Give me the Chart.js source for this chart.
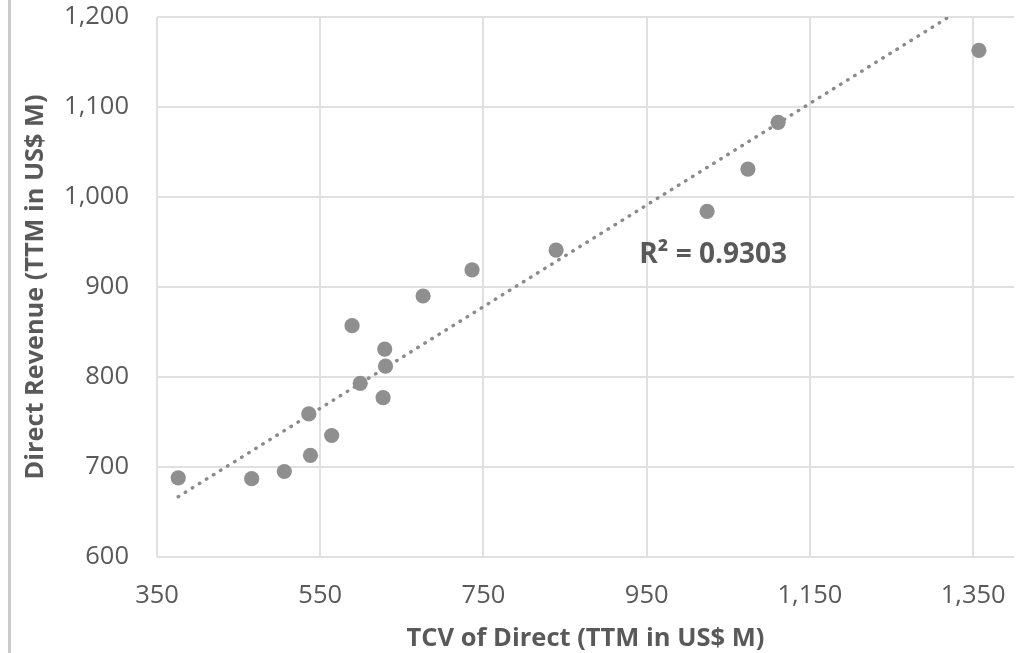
<!DOCTYPE html>
<html>
<head>
<meta charset="utf-8">
<script src="https://cdn.jsdelivr.net/npm/chart.js@4.4.1/dist/chart.umd.min.js"></script>
<style>
  html, body { margin: 0; padding: 0; background: #ffffff; }
  #wrap { position: relative; width: 1024px; height: 653px; }
  #edge { position: absolute; left: 8px; top: 0; width: 3px; height: 653px; background: #cacaca; }
  canvas { position: absolute; left: 0; top: 0; }
</style>
</head>
<body>
<div id="wrap">
  <canvas id="c" width="1024" height="653"></canvas>
  <div id="edge"></div>
</div>
<script>
// ---- data ----
const tcv = [376, 466, 506, 538, 536, 564, 589, 599, 629, 630, 627, 676, 736, 839, 1024, 1074, 1111, 1357];
const revenue = [688, 687, 695, 713, 759, 735, 857, 793, 831, 812, 777, 890, 919, 941, 984, 1031, 1083, 1163];
const xTicks = [350, 550, 750, 950, 1150, 1350];
const yTicks = [600, 700, 800, 900, 1000, 1100, 1200];
const xTitle = 'TCV of Direct (TTM in US$ M)';
const yTitle = 'Direct Revenue (TTM in US$ M)';
const trendSlope = 0.5646;
const trendIntercept = 454.7;
const r2Text = 'R\u00B2 = 0.9303';
const r2Anchor = [941, 935];

const points = tcv.map((x, i) => ({ x: x, y: revenue[i] }));
const xMinData = Math.min(...tcv), xMaxData = Math.max(...tcv);
const trend = [xMinData, xMaxData].map(x => ({ x: x, y: trendIntercept + trendSlope * x }));

const textColor = '#595959';
const FONT = "'Open Sans', 'Noto Sans', sans-serif";

const r2Plugin = {
  id: 'r2label',
  afterDatasetsDraw(chart) {
    const { ctx, scales } = chart;
    const px = scales.x.getPixelForValue(r2Anchor[0]);
    const py = scales.y.getPixelForValue(r2Anchor[1]);
    ctx.save();
    ctx.font = "bold 28px " + FONT;
    ctx.fillStyle = textColor;
    ctx.textAlign = 'left';
    ctx.textBaseline = 'middle';
    ctx.fillText(r2Text, px, py);
    ctx.restore();
  }
};

new Chart(document.getElementById('c'), {
  type: 'scatter',
  data: {
    datasets: [
      {
        label: 'Trend',
        data: trend,
        showLine: true,
        borderColor: '#8a8a8a',
        borderWidth: 3.4,
        borderDash: [0.5, 7.8],
        borderCapStyle: 'round',
        pointRadius: 0,
        pointHoverRadius: 0,
        fill: false,
        order: 2
      },
      {
        label: 'Direct',
        data: points,
        backgroundColor: '#8f8f8f',
        borderWidth: 0,
        pointRadius: 7.6,
        pointHoverRadius: 7.6,
        order: 1
      }
    ]
  },
  options: {
    responsive: false,
    animation: false,
    events: [],
    layout: { padding: { left: 20, top: 17, right: 10, bottom: 0 } },
    plugins: {
      legend: { display: false },
      tooltip: { enabled: false }
    },
    scales: {
      x: {
        type: 'linear',
        min: 350,
        max: 1400,
        afterBuildTicks: (s) => { s.ticks = xTicks.map(v => ({ value: v })); },
        afterFit: (s) => { s.height = 96; s.paddingLeft = 0; s.paddingRight = 0; },
        grid: { color: '#e0e0e0', lineWidth: 2, drawTicks: false },
        border: { display: false },
        ticks: {
          padding: 23,
          color: textColor,
          font: { family: FONT, size: 25.5 },
          maxRotation: 0,
          autoSkip: false,
          callback: (v) => Number(v).toLocaleString('en-US')
        },
        title: {
          display: true,
          text: xTitle,
          color: textColor,
          font: { family: FONT, size: 25.5, weight: 'bold', lineHeight: 1.1 },
          padding: { top: 0, bottom: 0 }
        }
      },
      y: {
        type: 'linear',
        min: 600,
        max: 1200,
        afterBuildTicks: (s) => { s.ticks = yTicks.map(v => ({ value: v })); },
        afterFit: (s) => { s.width = 137; s.paddingTop = 0; s.paddingBottom = 0; },
        grid: { color: '#e0e0e0', lineWidth: 2, drawTicks: false },
        border: { display: false },
        ticks: {
          padding: 28,
          color: textColor,
          font: { family: FONT, size: 25.5 },
          autoSkip: false,
          callback: (v) => Number(v).toLocaleString('en-US')
        },
        title: {
          display: true,
          text: yTitle,
          color: textColor,
          font: { family: FONT, size: 25.3, weight: 'bold', lineHeight: 1.1 },
          padding: { top: 2, bottom: 0 }
        }
      }
    }
  },
  plugins: [r2Plugin]
});
</script>
</body>
</html>
